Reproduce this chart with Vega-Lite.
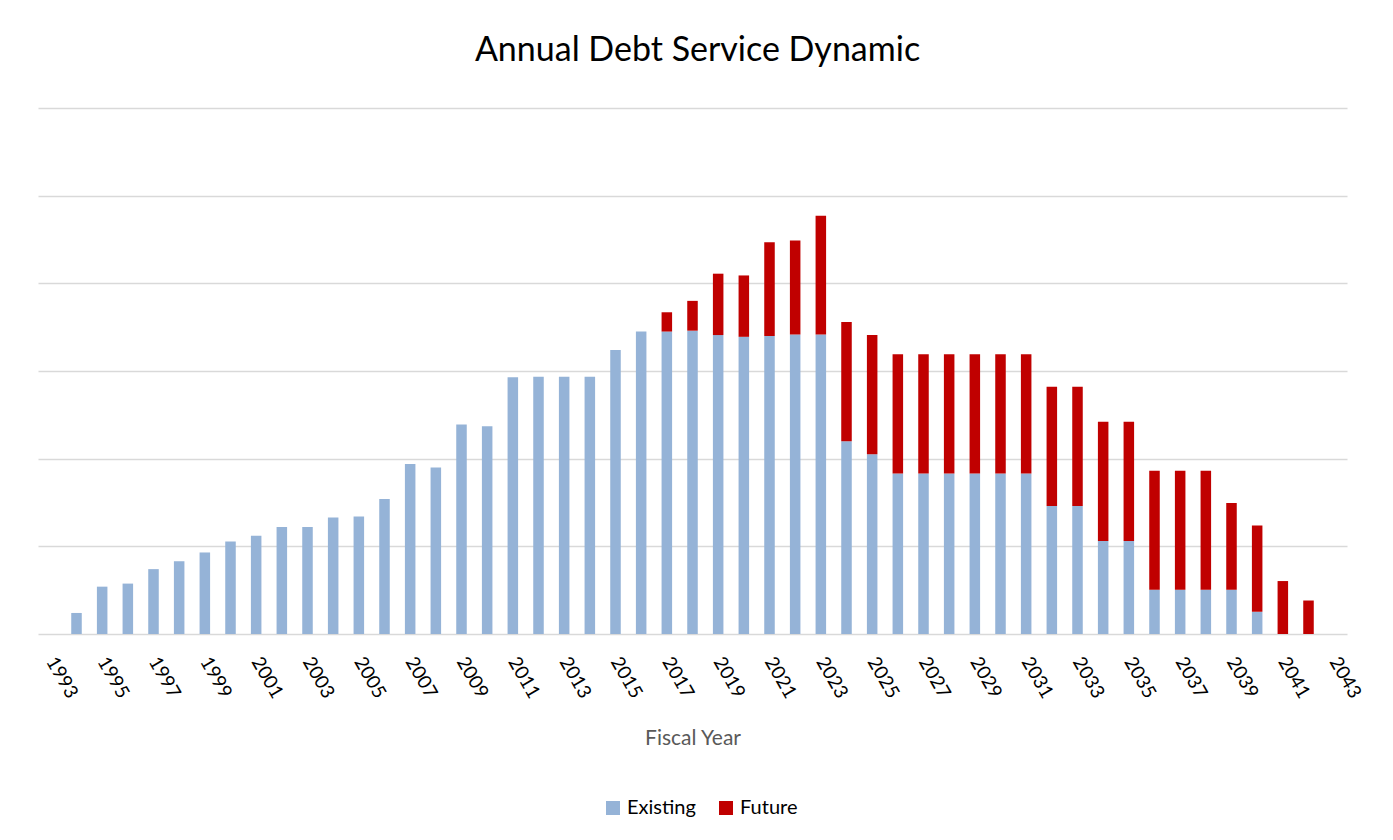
{
  "$schema": "https://vega.github.io/schema/vega-lite/v6.json",
  "autosize": {"type": "none"},
  "width": 1309,
  "height": 526,
  "padding": {"left": 38, "top": 108, "right": 46, "bottom": 206},
  "background": "white",
  "title": {
    "text": "Annual Debt Service Dynamic",
    "font": "Lato",
    "fontSize": 34,
    "fontWeight": "normal",
    "color": "#000000",
    "anchor": "middle",
    "baseline": "alphabetic",
    "offset": 13,
    "dx": 5
  },
  "data": {
    "values": [
      {"year": 1994, "series": "Existing", "value": 0.24},
      {"year": 1995, "series": "Existing", "value": 0.54},
      {"year": 1996, "series": "Existing", "value": 0.575},
      {"year": 1997, "series": "Existing", "value": 0.74},
      {"year": 1998, "series": "Existing", "value": 0.83},
      {"year": 1999, "series": "Existing", "value": 0.93},
      {"year": 2000, "series": "Existing", "value": 1.055},
      {"year": 2001, "series": "Existing", "value": 1.12},
      {"year": 2002, "series": "Existing", "value": 1.22},
      {"year": 2003, "series": "Existing", "value": 1.22},
      {"year": 2004, "series": "Existing", "value": 1.33},
      {"year": 2005, "series": "Existing", "value": 1.34},
      {"year": 2006, "series": "Existing", "value": 1.54},
      {"year": 2007, "series": "Existing", "value": 1.94},
      {"year": 2008, "series": "Existing", "value": 1.90},
      {"year": 2009, "series": "Existing", "value": 2.39},
      {"year": 2010, "series": "Existing", "value": 2.37},
      {"year": 2011, "series": "Existing", "value": 2.93},
      {"year": 2012, "series": "Existing", "value": 2.935},
      {"year": 2013, "series": "Existing", "value": 2.935},
      {"year": 2014, "series": "Existing", "value": 2.935},
      {"year": 2015, "series": "Existing", "value": 3.24},
      {"year": 2016, "series": "Existing", "value": 3.45},
      {"year": 2017, "series": "Existing", "value": 3.45},
      {"year": 2017, "series": "Future", "value": 0.22},
      {"year": 2018, "series": "Existing", "value": 3.46},
      {"year": 2018, "series": "Future", "value": 0.34},
      {"year": 2019, "series": "Existing", "value": 3.41},
      {"year": 2019, "series": "Future", "value": 0.70},
      {"year": 2020, "series": "Existing", "value": 3.39},
      {"year": 2020, "series": "Future", "value": 0.70},
      {"year": 2021, "series": "Existing", "value": 3.40},
      {"year": 2021, "series": "Future", "value": 1.07},
      {"year": 2022, "series": "Existing", "value": 3.415},
      {"year": 2022, "series": "Future", "value": 1.075},
      {"year": 2023, "series": "Existing", "value": 3.415},
      {"year": 2023, "series": "Future", "value": 1.355},
      {"year": 2024, "series": "Existing", "value": 2.20},
      {"year": 2024, "series": "Future", "value": 1.36},
      {"year": 2025, "series": "Existing", "value": 2.05},
      {"year": 2025, "series": "Future", "value": 1.36},
      {"year": 2026, "series": "Existing", "value": 1.83},
      {"year": 2026, "series": "Future", "value": 1.36},
      {"year": 2027, "series": "Existing", "value": 1.83},
      {"year": 2027, "series": "Future", "value": 1.36},
      {"year": 2028, "series": "Existing", "value": 1.83},
      {"year": 2028, "series": "Future", "value": 1.36},
      {"year": 2029, "series": "Existing", "value": 1.83},
      {"year": 2029, "series": "Future", "value": 1.36},
      {"year": 2030, "series": "Existing", "value": 1.83},
      {"year": 2030, "series": "Future", "value": 1.36},
      {"year": 2031, "series": "Existing", "value": 1.83},
      {"year": 2031, "series": "Future", "value": 1.36},
      {"year": 2032, "series": "Existing", "value": 1.46},
      {"year": 2032, "series": "Future", "value": 1.36},
      {"year": 2033, "series": "Existing", "value": 1.46},
      {"year": 2033, "series": "Future", "value": 1.36},
      {"year": 2034, "series": "Existing", "value": 1.06},
      {"year": 2034, "series": "Future", "value": 1.36},
      {"year": 2035, "series": "Existing", "value": 1.06},
      {"year": 2035, "series": "Future", "value": 1.36},
      {"year": 2036, "series": "Existing", "value": 0.505},
      {"year": 2036, "series": "Future", "value": 1.358},
      {"year": 2037, "series": "Existing", "value": 0.505},
      {"year": 2037, "series": "Future", "value": 1.358},
      {"year": 2038, "series": "Existing", "value": 0.505},
      {"year": 2038, "series": "Future", "value": 1.358},
      {"year": 2039, "series": "Existing", "value": 0.505},
      {"year": 2039, "series": "Future", "value": 0.99},
      {"year": 2040, "series": "Existing", "value": 0.253},
      {"year": 2040, "series": "Future", "value": 0.986},
      {"year": 2041, "series": "Future", "value": 0.604},
      {"year": 2042, "series": "Future", "value": 0.382}
    ]
  },
  "mark": {"type": "bar"},
  "encoding": {
    "x": {
      "field": "year",
      "type": "ordinal",
      "title": "Fiscal Year",
      "scale": {
        "domain": [1993,1994,1995,1996,1997,1998,1999,2000,2001,2002,2003,2004,2005,2006,2007,2008,2009,2010,2011,2012,2013,2014,2015,2016,2017,2018,2019,2020,2021,2022,2023,2024,2025,2026,2027,2028,2029,2030,2031,2032,2033,2034,2035,2036,2037,2038,2039,2040,2041,2042,2043],
        "paddingInner": 0.59,
        "paddingOuter": 0.295
      },
      "axis": {
        "values": [1993,1995,1997,1999,2001,2003,2005,2007,2009,2011,2013,2015,2017,2019,2021,2023,2025,2027,2029,2031,2033,2035,2037,2039,2041,2043],
        "labelAngle": 60,
        "labelAlign": "left",
        "labelBaseline": "middle",
        "labelPadding": 24,
        "labelFont": "Lato",
        "labelFontSize": 19,
        "labelColor": "#000000",
        "domain": false,
        "ticks": false,
        "tickSize": 0,
        "grid": false,
        "titleFont": "Lato",
        "titleFontSize": 21,
        "titleFontWeight": "normal",
        "titleColor": "#595959",
        "titlePadding": 26
      }
    },
    "y": {
      "field": "value",
      "type": "quantitative",
      "aggregate": "sum",
      "stack": "zero",
      "scale": {"domain": [0, 6], "nice": false},
      "axis": {
        "title": null,
        "values": [0, 1, 2, 3, 4, 5, 6],
        "labels": false,
        "ticks": false,
        "domain": false,
        "grid": true,
        "gridColor": "#D9D9D9",
        "gridWidth": 1.5
      }
    },
    "color": {
      "field": "series",
      "type": "nominal",
      "scale": {"domain": ["Existing", "Future"], "range": ["#95B3D7", "#C00000"]},
      "legend": {
        "title": null,
        "orient": "none",
        "direction": "horizontal",
        "legendX": 565,
        "legendY": 690,
        "symbolType": "square",
        "symbolSize": 196,
        "symbolStrokeWidth": 0,
        "labelFont": "Lato",
        "labelFontSize": 20,
        "labelColor": "#000000",
        "labelOffset": 4,
        "columnPadding": 20
      }
    },
    "order": {"field": "series", "sort": "ascending"}
  },
  "config": {
    "view": {"stroke": null}
  }
}
